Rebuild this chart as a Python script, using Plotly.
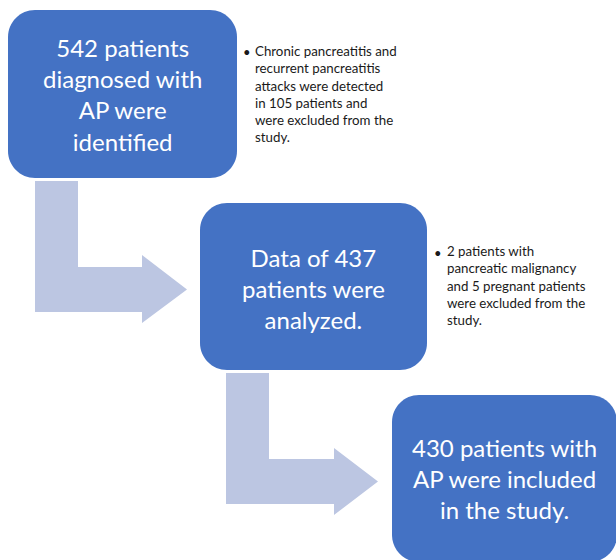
import plotly.graph_objects as go

# ---- data ----
patient_counts = [542, 437, 430]
excluded_counts = [105, 7]
box_texts = [
    "542 patients<br>diagnosed with<br>AP were<br>identified",
    "Data of 437<br>patients were<br>analyzed.",
    "430 patients with<br>AP were included<br>in the study.",
]
note_texts = [
    "Chronic pancreatitis and<br>recurrent pancreatitis<br>attacks were detected<br>in 105 patients and<br>were excluded from the<br>study.",
    "2 patients with<br>pancreatic malignancy<br>and 5 pregnant patients<br>were excluded from the<br>study.",
]

# ---- layout geometry (pixels) ----
W, H = 616, 560
boxes = [(8, 10, 237, 178), (200, 203, 427, 370), (392, 395, 617, 562)]
box_text_centers = [(122.5, 94), (313.5, 288), (504.5, 478)]
notes_pos = [(247, 253, 94, 52), (438, 445, 285.5, 253)]  # bullet x, text x, block center y, first line y
arrows = [
    dict(x0=35, x1=78, yt=181, ht=267, hb=312, hx=142, hht=255, hhb=323, tx=187),
    dict(x0=226, x1=269, yt=373, ht=459, hb=504, hx=334, hht=448, hhb=515, tx=378),
]

BLUE = "#4472C4"
LIGHT = "#BCC6E2"
FONT = "Lato, 'Open Sans', sans-serif"


def rounded_rect(x0, y0, x1, y1, r):
    k = 0.5523 * r
    return (
        f"M {x0+r},{y0} L {x1-r},{y0} "
        f"C {x1-r+k},{y0} {x1},{y0+r-k} {x1},{y0+r} "
        f"L {x1},{y1-r} "
        f"C {x1},{y1-r+k} {x1-r+k},{y1} {x1-r},{y1} "
        f"L {x0+r},{y1} "
        f"C {x0+r-k},{y1} {x0},{y1-r+k} {x0},{y1-r} "
        f"L {x0},{y0+r} "
        f"C {x0},{y0+r-k} {x0+r-k},{y0} {x0+r},{y0} Z"
    )


def elbow_arrow(a):
    mid = (a["ht"] + a["hb"]) / 2
    return (
        f"M {a['x0']},{a['yt']} L {a['x1']},{a['yt']} L {a['x1']},{a['ht']} "
        f"L {a['hx']},{a['ht']} L {a['hx']},{a['hht']} L {a['tx']},{mid} "
        f"L {a['hx']},{a['hhb']} L {a['hx']},{a['hb']} L {a['x0']},{a['hb']} Z"
    )


fig = go.Figure()
fig.add_trace(go.Scatter(x=[0, W], y=[0, H], mode="markers",
                         marker=dict(opacity=0), hoverinfo="skip", showlegend=False))

shapes = []
for a in arrows:
    shapes.append(dict(type="path", path=elbow_arrow(a), xref="x", yref="y",
                       fillcolor=LIGHT, line=dict(width=0), layer="below"))
for (x0, y0, x1, y1) in boxes:
    shapes.append(dict(type="path", path=rounded_rect(x0, y0, x1, y1, 27), xref="x", yref="y",
                       fillcolor=BLUE, line=dict(width=0), layer="below"))

annotations = []
for txt, (cx, cy) in zip(box_texts, box_text_centers):
    annotations.append(dict(x=cx, y=cy, xref="x", yref="y", text=txt, showarrow=False,
                            xanchor="center", yanchor="middle", align="center",
                            font=dict(family=FONT, size=24, color="white")))
for txt, (bx, tx, cy, fy) in zip(note_texts, notes_pos):
    annotations.append(dict(x=tx, y=cy, xref="x", yref="y", text=txt, showarrow=False,
                            xanchor="left", yanchor="middle", align="left",
                            font=dict(family=FONT, size=13.3, color="#1a1a1a")))
    annotations.append(dict(x=bx, y=fy, xref="x", yref="y", text="•", showarrow=False,
                            xanchor="center", yanchor="middle",
                            font=dict(family=FONT, size=13, color="#1a1a1a")))

fig.update_layout(
    width=W, height=H, margin=dict(l=0, r=0, t=0, b=0),
    paper_bgcolor="white", plot_bgcolor="white",
    xaxis=dict(range=[0, W], visible=False, fixedrange=True),
    yaxis=dict(range=[H, 0], visible=False, fixedrange=True),
    shapes=shapes, annotations=annotations, showlegend=False,
)

fig.write_html("out.html", config={"displayModeBar": False},
               post_script="document.body.style.margin='0';document.body.style.overflow='hidden';")
